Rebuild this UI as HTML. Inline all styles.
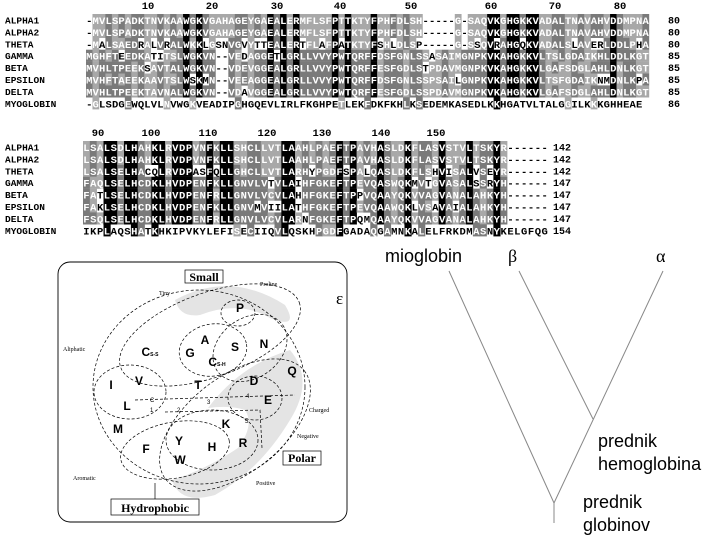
<!DOCTYPE html>
<html><head><meta charset="utf-8"><style>
html,body{margin:0;padding:0;background:#fff;}
svg{display:block;}
</style></head><body>
<svg id="s" width="720" height="540" viewBox="0 0 720 540" xmlns="http://www.w3.org/2000/svg">
<g id="aln"></g>
<g fill="none" stroke="#000" stroke-width="0.8">
<rect x="58" y="262" width="289" height="260" rx="12" stroke-width="0.9"/>
</g>
<g fill="#e4e4e4" stroke="none">
<path d="M175 300 Q230 270 285 305 Q300 330 270 318 Q240 300 200 315 Q180 318 175 300Z"/>
<path d="M208 408 Q240 365 290 350 Q315 380 290 420 Q260 470 215 495 Q180 505 172 480 Q205 470 238 448 Q255 425 245 410 Q230 405 208 408Z"/>
</g>
<g fill="none" stroke="#000" stroke-width="0.7" stroke-dasharray="3,2">
<ellipse cx="199" cy="387" rx="106" ry="97"/>
<ellipse cx="210" cy="335" rx="95" ry="42" transform="rotate(-20 210 335)"/>
<ellipse cx="238" cy="313" rx="17" ry="13"/>
<ellipse cx="213" cy="350" rx="34" ry="26" transform="rotate(-10 213 350)"/>
<ellipse cx="250" cy="348" rx="40" ry="30" transform="rotate(-35 250 348)"/>
<ellipse cx="130" cy="392" rx="36" ry="27"/>
<ellipse cx="235" cy="425" rx="88" ry="48" transform="rotate(-38 235 425)"/>
<ellipse cx="255" cy="398" rx="27" ry="22"/>
<ellipse cx="212" cy="440" rx="46" ry="30"/>
<ellipse cx="175" cy="450" rx="55" ry="28" transform="rotate(-10 175 450)"/>
<path d="M135 400 L295 395"/>
<path d="M165 412 L260 410 L262 448"/>
</g>
<g fill="none" stroke="#000" stroke-width="0.7">
<rect x="185" y="270" width="38" height="13"/>
<rect x="283" y="451" width="38" height="14"/>
<rect x="111" y="499" width="88" height="16"/>
<path d="M155 483 L155 499"/>
</g>
<g font-family="Liberation Serif, serif" font-size="12" font-weight="bold" text-anchor="middle">
<text x="204" y="281">Small</text>
<text x="302" y="462">Polar</text>
<text x="155" y="512">Hydrophobic</text>
</g>
<g font-family="Liberation Serif, serif" font-size="6">
<text x="159" y="295">Tiny</text><text x="260" y="286">Proline</text>
<text x="63" y="351">Aliphatic</text><text x="73" y="480">Aromatic</text>
<text x="309" y="412">Charged</text><text x="297" y="438">Negative</text>
<text x="256" y="485">Positive</text>
</g>
<g font-family="Liberation Sans, sans-serif" font-size="12" font-weight="bold" text-anchor="middle">
<text x="240" y="312">P</text><text x="205" y="344">A</text><text x="190" y="357">G</text>
<text x="235" y="351">S</text><text x="264" y="348">N</text><text x="292" y="375">Q</text>
<text x="111" y="389">I</text><text x="139" y="385">V</text><text x="198" y="389">T</text>
<text x="254" y="385">D</text><text x="268" y="404">E</text><text x="127" y="410">L</text>
<text x="118" y="433">M</text><text x="226" y="428">K</text><text x="179" y="445">Y</text>
<text x="146" y="453">F</text><text x="212" y="451">H</text><text x="243" y="447">R</text>
<text x="180" y="464">W</text>
<text x="150" y="356">C<tspan font-size="5">S-S</tspan></text>
<text x="217" y="366">C<tspan font-size="5">S-H</tspan></text>
</g>
<g font-family="Liberation Sans, sans-serif" font-size="6"><text x="150" y="402">C</text><text x="150" y="412">1</text><text x="177" y="412">2</text><text x="207" y="404">3</text><text x="246" y="398">4</text><text x="245" y="423">5</text></g>
<text x="336" y="304" font-family="Liberation Serif, serif" font-size="17">ε</text>
<g stroke="#888" stroke-width="1" fill="none">
<path d="M449 271 L554 503 M519 271 L593 419 M663 271 L554 503 M554 503 L554 523"/>
</g>
<g font-family="Liberation Sans, sans-serif" font-size="18" fill="#000">
<text x="385" y="262">mioglobin</text>
<text x="508" y="262" font-family="Liberation Serif, serif">β</text>
<text x="656" y="262" font-family="Liberation Serif, serif">α</text>
<text x="598" y="447">prednik</text>
<text x="598" y="470">hemoglobina</text>
<text x="583" y="508">prednik</text>
<text x="583" y="531">globinov</text>
</g>
</svg>
<script>
(function(){
var NS="http://www.w3.org/2000/svg",g=document.getElementById("aln");
var names=["ALPHA1","ALPHA2","THETA","GAMMA","BETA","EPSILON","DELTA","MYOGLOBIN"];
var b1=["-MVLSPADKTNVKAAWGKVGAHAGEYGAEALERMFLSFPTTKTYFPHFDLSH-----G-SAQVKGHGKKVADALTNAVAHVDDMPNA",
"-MVLSPADKTNVKAAWGKVGAHAGEYGAEALERMFLSFPTTKTYFPHFDLSH-----G-SAQVKGHGKKVADALTNAVAHVDDMPNA",
"-MALSAEDRALVRALWKKLGSNVGVYTTEALERTFLAFPATKTYFSHLDLSP-----G-SSQVRAHGQKVADALSLAVERLDDLPHA",
"MGHFTEEDKATITSLWGKVN--VEDAGGETLGRLLVVYPWTQRFFDSFGNLSSASAIMGNPKVKAHGKKVLTSLGDAIKHLDDLKGT",
"MVHLTPEEKSAVTALWGKVN--VDEVGGEALGRLLVVYPWTQRFFESFGDLSTPDAVMGNPKVKAHGKKVLGAFSDGLAHLDNLKGT",
"MVHFTAEEKAAVTSLWSKMN--VEEAGGEALGRLLVVYPWTQRFFDSFGNLSSPSAILGNPKVKAHGKKVLTSFGDAIKNMDNLKPA",
"MVHLTPEEKTAVNALWGKVN--VDAVGGEALGRLLVVYPWTQRFFESFGDLSSPDAVMGNPKVKAHGKKVLGAFSDGLAHLDNLKGT",
"-GLSDGEWQLVLNVWGKVEADIPGHGQEVLIRLFKGHPETLEKFDKFKHLKSEDEMKASEDLKKHGATVLTALGGILKKKGHHEAE"];
var b2=["LSALSDLHAHKLRVDPVNFKLLSHCLLVTLAAHLPAEFTPAVHASLDKFLASVSTVLTSKYR------",
"LSALSDLHAHKLRVDPVNFKLLSHCLLVTLAAHLPAEFTPAVHASLDKFLASVSTVLTSKYR------",
"LSALSELHACQLRVDPASFQLLGHCLLVTLARHYPGDFSPALQASLDKFLSHVISALVSEYR------",
"FAQLSELHCDKLHVDPENFKLLGNVLVTVLAIHFGKEFTPEVQASWQKMVTGVASALSSRYH------",
"FATLSELHCDKLHVDPENFRLLGNVLVCVLAHHFGKEFTPPVQAAYQKVVAGVANALAHKYH------",
"FAKLSELHCDKLHVDPENFKLLGNVMVIILATHFGKEFTPEVQAAWQKLVSAVAIALAHKYH------",
"FSQLSELHCDKLHVDPENFRLLGNVLVCVLARNFGKEFTPQMQAAYQKVVAGVANALAHKYH------",
"IKPLAQSHATKHKIPVKYLEFISECIIQVLQSKHPGDFGADAQGAMNKALELFRKDMASNYKELGFQG"];
function el(t,a,txt){var e=document.createElementNS(NS,t);for(var k in a)e.setAttribute(k,a[k]);if(txt!=null)e.textContent=txt;g.appendChild(e);return e;}
function block(seqs,x0,cw,y0,dy,nx,nums,ticks,ty){
 var n=0;seqs.forEach(function(s){if(s.length>n)n=s.length;});
 for(var r=0;r<8;r++){
  var y=y0+r*dy;
  el("text",{x:5,y:y+3.5,"font-family":"Liberation Mono, monospace","font-size":"9.5","font-weight":"bold"},names[r]);
  el("text",{x:nx,y:y+3.5,"font-family":"Liberation Mono, monospace","font-size":"10","font-weight":"bold"},nums[r]);
 }
 for(var c=0;c<n;c++){
  var cnt={};for(var r=0;r<8;r++){var ch=seqs[r][c]||" ";cnt[ch]=(cnt[ch]||0)+1;}
  for(var r=0;r<8;r++){
   var ch=seqs[r][c]||" ";if(ch==" ")continue;
   var x=x0+c*cw,y=y0+r*dy,fill="#000",bg=null;
   if(ch!="-"){ if(cnt[ch]>=7){bg="#000";fill="#fff";} else if(cnt[ch]>=4){bg="#7a7a7a";fill="#fff";} else if(cnt[ch]>=2){bg="#a8a8a8";fill="#fff";} }
   if(bg)el("rect",{x:x,y:y-6,width:cw+0.3,height:dy+0.2,fill:bg});
   el("text",{x:x+cw/2,y:y+4,"text-anchor":"middle","font-family":"Liberation Mono, monospace","font-size":"10.5","font-weight":"bold",fill:fill},ch);
  }
 }
 ticks.forEach(function(t){el("text",{x:t[1],y:ty,"text-anchor":"middle","font-family":"Liberation Mono, monospace","font-size":"10.5","font-weight":"bold"},t[0]);});
}
block(b1,86,6.47,20,11.9,668,["80","80","80","85","85","85","85","86"],[["10",148],["20",212],["30",277],["40",340],["50",411],["60",491],["70",555],["80",620]],9);
block(b2,83,6.84,147,11.9,553,["142","142","142","147","147","147","147","154"],[["90",98],["100",151],["110",208],["120",267],["130",322],["140",381],["150",436]],136);
})();
</script>
</body></html>
